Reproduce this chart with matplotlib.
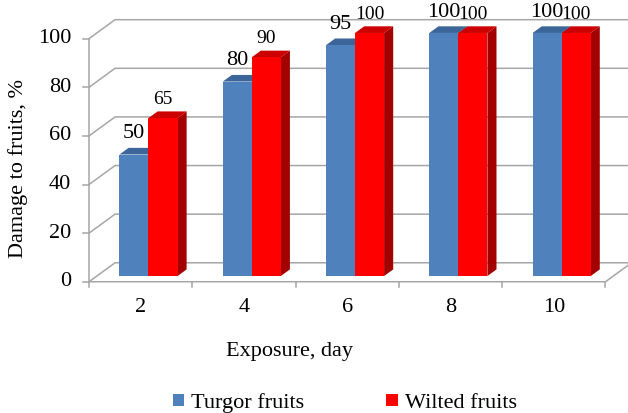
import matplotlib
matplotlib.use("Agg")
import matplotlib.pyplot as plt
from matplotlib.patches import Polygon, Patch

plt.rcParams["font.family"] = ["Liberation Serif", "DejaVu Serif"]

# data
days = ["2", "4", "6", "8", "10"]
turgor = [50, 80, 95, 100, 100]
wilted = [65, 90, 100, 100, 100]
y_ticks = [0, 20, 40, 60, 80, 100]

series = [
    # name, values, front, top, side, label size
    ("Turgor fruits", turgor, "#4f81bd", "#3c6699", "#3c6699", 16),
    ("Wilted fruits", wilted, "#ff0000", "#cc0000", "#a30000", 14),
]

# pseudo-3D projection: x in category units, y in value units, z = depth 0..1
DX, DY = 0.252, 7.8
Z0, Z1 = 0.3, 0.65
BAR_W = 0.281
GRID = "#a6a6a6"


def proj(x, y, z):
    return x + z * DX, y + z * DY


fig = plt.figure(figsize=(6.28, 4.13), dpi=100, facecolor="white")
ax = fig.add_axes([0, 0, 1, 1])
ax.set_xlim(-0.862, 5.218)
ax.set_ylim(-54.0, 115.9)
ax.axis("off")

n = len(days)

# back wall gridlines with side-wall diagonals
for v in y_ticks:
    pts = [proj(0, v, 0), proj(0, v, 1), proj(n, v, 1)]
    ax.plot(*zip(*pts), color=GRID, lw=1.1, solid_joinstyle="miter")
    # y tick mark
    ax.plot([-0.058, 0], [v, v], color=GRID, lw=1.1)
    ax.text(-0.174, v, str(v), ha="right", va="center", fontsize=16)

# front vertical axis
ax.plot(*zip(proj(0, 0, 0), proj(0, y_ticks[-1], 0)), color=GRID, lw=1.1)

# floor front edge and right edge
ax.plot(*zip(proj(0, 0, 0), proj(n, 0, 0), proj(n, 0, 1)), color=GRID, lw=1.1)
for i in range(n + 1):
    ax.plot([i, i], [0, -2.3], color=GRID, lw=1.1)

# bars
for i, day in enumerate(days):
    c = i + 0.5
    for k, (name, vals, front, top, side, fs) in enumerate(series):
        x0 = c - BAR_W + k * BAR_W
        x1 = x0 + BAR_W
        v = vals[i]
        face = [proj(x0, 0, Z0), proj(x1, 0, Z0), proj(x1, v, Z0), proj(x0, v, Z0)]
        roof = [proj(x0, v, Z0), proj(x1, v, Z0), proj(x1, v, Z1), proj(x0, v, Z1)]
        wall = [proj(x1, 0, Z0), proj(x1, 0, Z1), proj(x1, v, Z1), proj(x1, v, Z0)]
        for poly, col in [(wall, side), (roof, top), (face, front)]:
            ax.add_patch(Polygon(poly, closed=True, facecolor=col, edgecolor="none", zorder=3))
        lx, ly = proj((x0 + x1) / 2, v, Z0)
        off = 8.5 if k == 0 else 7.6
        ax.text(lx, ly + off, str(v), ha="center", va="center", fontsize=fs, zorder=5)
    ax.text(c, -10.8, day, ha="center", va="center", fontsize=16)

ax.text(-0.687, 46.6, "Damage to fruits, %", rotation=90, ha="center", va="center", fontsize=16)
ax.text(1.936, -28.9, "Exposure, day", ha="center", va="center", fontsize=16)

handles = [Patch(facecolor=s[2], edgecolor="none", label=s[0]) for s in series]
fig.legend(handles=handles, loc="center", bbox_to_anchor=(0.549, 0.024), ncol=2,
           frameon=False, fontsize=16, handlelength=0.5, handleheight=0.5,
           handletextpad=0.32, columnspacing=3.7, borderpad=0)

fig.savefig("out.png", dpi=100, facecolor="white")
